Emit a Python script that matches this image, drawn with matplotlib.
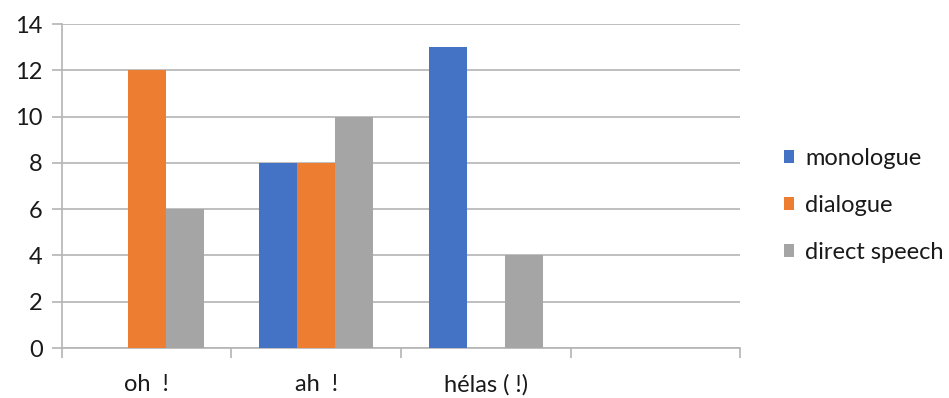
import numpy as np
import matplotlib.pyplot as plt
from matplotlib.ticker import FixedLocator

plt.rcParams['font.family'] = ['Lato', 'DejaVu Sans']

categories = ["oh  !", "ah  !", "hélas ( !)", ""]
series = ["monologue", "dialogue", "direct speech"]
monologue = [0, 8, 13, 0]
dialogue = [12, 8, 0, 0]
direct_speech = [6, 10, 4, 0]
colors = ["#4472C4", "#ED7D31", "#A5A5A5"]

grid_col = "#B4B4B4"
txt_col = "#1a1a1a"
fs = 17

fig = plt.figure(figsize=(9.49, 3.98), dpi=100)
ax = fig.add_axes([0.0653, 0.1256, 0.7145, 0.814])

x = np.arange(len(categories))
w = 0.224
for i, (name, vals) in enumerate(zip(series, [monologue, dialogue, direct_speech])):
    ax.bar(x + (i - 1) * w, vals, w, color=colors[i], label=name, zorder=3, linewidth=0)

ax.set_xlim(-0.5, len(categories) - 0.5)
ax.set_ylim(0, 14)
ax.set_yticks(np.arange(0, 15, 2))
ax.yaxis.grid(True, color=grid_col, linewidth=1.2, zorder=0)

# category boundaries get the tick marks, names sit at the centres
ax.xaxis.set_major_locator(FixedLocator(np.arange(-0.5, len(categories), 1.0)))
ax.xaxis.set_minor_locator(FixedLocator(x))
ax.set_xticklabels([])
ax.set_xticklabels(categories, minor=True)
ax.tick_params(axis='x', which='major', length=7, color=grid_col, width=1.2, direction='out')
ax.tick_params(axis='x', which='minor', length=0, pad=19, labelsize=fs, labelcolor=txt_col)
ax.tick_params(axis='y', length=7, color=grid_col, width=1.2, pad=7, labelsize=fs, labelcolor=txt_col)

for s in ['top', 'right']:
    ax.spines[s].set_visible(False)
for s in ['left', 'bottom']:
    ax.spines[s].set_color(grid_col)
    ax.spines[s].set_linewidth(1.2)

ax.legend(loc='center left', bbox_to_anchor=(1.033, 0.44), frameon=False,
          fontsize=fs, handlelength=0.45, handleheight=0.45, handletextpad=0.45,
          labelspacing=1.1, labelcolor=txt_col)

fig.savefig("out.png", dpi=100)
